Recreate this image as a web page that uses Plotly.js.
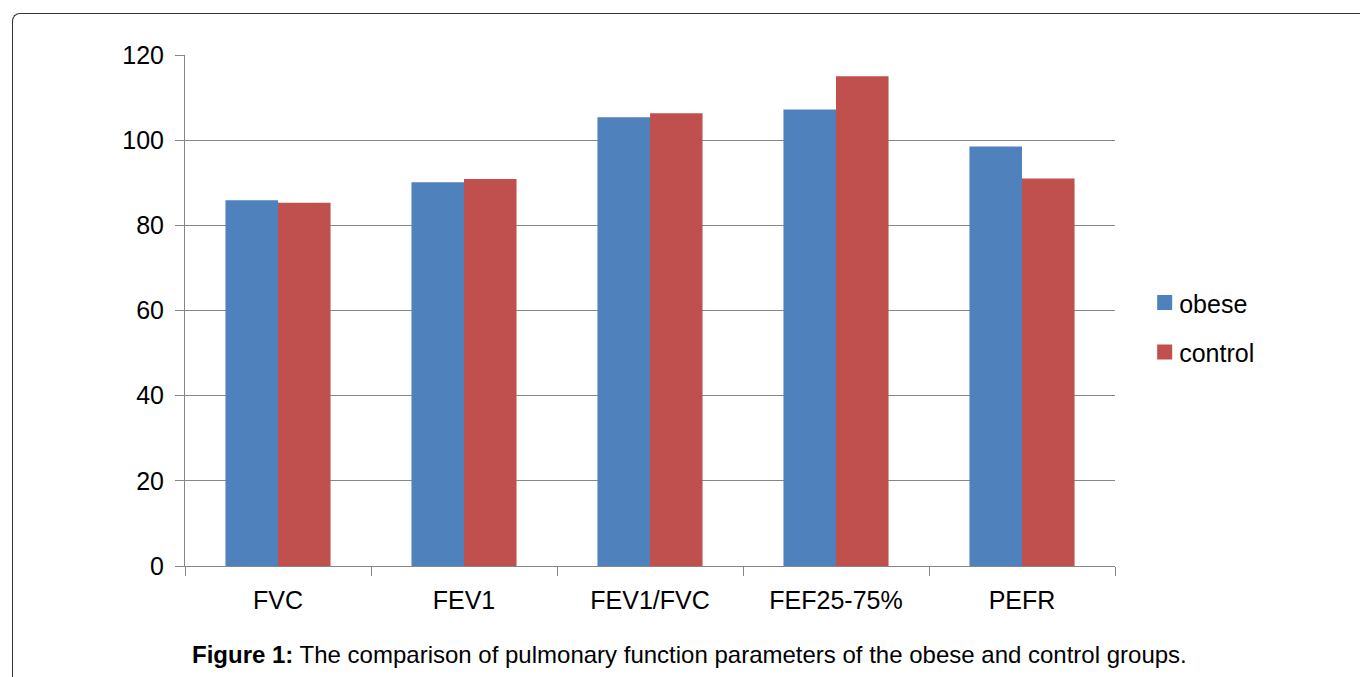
<!DOCTYPE html>
<html>
<head>
<meta charset="utf-8">
<script src="https://cdn.plot.ly/plotly-3.0.1.min.js"></script>
<style>
html, body { margin: 0; padding: 0; background: #fff; }
#wrap { position: relative; width: 1360px; height: 677px; overflow: hidden; }
#frame { position: absolute; left: 12px; top: 13px; width: 1400px; height: 700px;
  border-left: 1.5px solid #333; border-top: 1.5px solid #333; border-top-left-radius: 8px; pointer-events: none; }
#chart { position: absolute; left: 0; top: 0; width: 1360px; height: 677px; }
</style>
</head>
<body>
<div id="wrap">
<div id="chart"></div>
<div id="frame"></div>
</div>
<script>
const categories = ["FVC", "FEV1", "FEV1/FVC", "FEF25-75%", "PEFR"];
const obese = [85.9, 90.1, 105.4, 107.2, 98.5];
const control = [85.3, 90.9, 106.3, 115.0, 91.0];
const yTicks = [0, 20, 40, 60, 80, 100, 120];

const traces = [
  { type: "bar", name: "obese", legendgroup: "a", x: categories, y: obese,
    marker: { color: "#4F81BD", line: { width: 0 } } },
  { type: "bar", name: "control", legendgroup: "b", x: categories, y: control,
    marker: { color: "#C0504D", line: { width: 0 } } }
];

const layout = {
  width: 1360, height: 677,
  margin: { l: 185, r: 245, t: 55, b: 111 },
  paper_bgcolor: "rgba(0,0,0,0)", plot_bgcolor: "#fff",
  font: { family: "Liberation Sans, Arial, sans-serif", color: "#000", size: 25 },
  barmode: "group", bargap: 0.435, bargroupgap: 0,
  showlegend: true,
  legend: { x: 1.026, y: 0.466, xanchor: "left", yanchor: "middle",
    font: { size: 25 }, tracegroupgap: 14, itemwidth: 30, bgcolor: "rgba(0,0,0,0)" },
  xaxis: { type: "category", showgrid: false, showline: true, linecolor: "#868686", linewidth: 1,
    ticks: "outside", tickson: "boundaries", ticklen: 9, tickcolor: "#868686",
    tickfont: { size: 25 }, ticklabelstandoff: 12, zeroline: false },
  yaxis: { range: [0, 120], tickvals: yTicks, ticktext: yTicks.map(String),
    showgrid: true, gridcolor: "#868686", gridwidth: 1,
    showline: true, linecolor: "#868686", linewidth: 1,
    ticks: "outside", ticklen: 9, tickcolor: "#868686",
    tickfont: { size: 25 }, ticklabelstandoff: 6, zeroline: false },
  annotations: [{
    xref: "paper", yref: "paper", x: 0.543, y: -0.174, xanchor: "center", yanchor: "middle",
    showarrow: false, font: { size: 24, color: "#000" },
    text: "<b>Figure 1:</b> The comparison of pulmonary function parameters of the obese and control groups."
  }]
};

Plotly.newPlot("chart", traces, layout, { displayModeBar: false, staticPlot: true }).then(function () {
  // enlarge legend swatches to match the reference squares
  document.querySelectorAll(".legendpoints path").forEach(function (p) {
    p.setAttribute("d", "M-2,-8h15v15h-15z");
  });
});
</script>
</body>
</html>
